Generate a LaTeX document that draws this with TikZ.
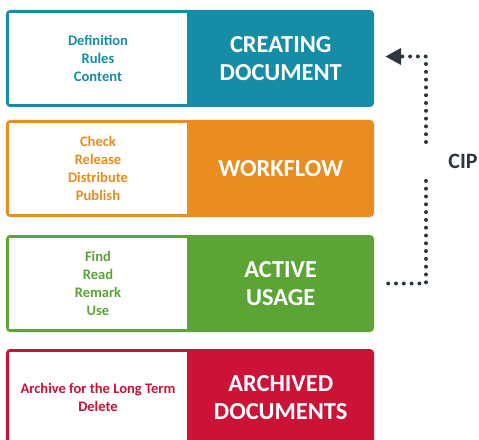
\documentclass[tikz,border=0pt]{standalone}
\usepackage{fontspec}
\setmainfont{Carlito}
\usepackage{tikz}
\usetikzlibrary{arrows.meta}

\definecolor{createcol}{RGB}{22,140,166}
\definecolor{flowcol}{RGB}{233,141,32}
\definecolor{usecol}{RGB}{92,164,54}
\definecolor{archivecol}{RGB}{204,18,54}
\definecolor{cipgray}{RGB}{45,55,62}

\tikzset{
	stage/.style={rectangle, rounded corners=4bp, minimum width=368bp, minimum height=97bp, inner sep=0pt},
	listbox/.style={rectangle, fill=white, minimum width=178bp, minimum height=91bp, inner sep=0pt, align=center, font=\bfseries\fontsize{14.6}{18}\selectfont},
	titletext/.style={text=white, align=center, font=\bfseries\fontsize{24.5}{28}\selectfont},
	cipline/.style={draw=cipgray, line width=4bp, line cap=round, dash pattern=on 0pt off 7.8bp}
}

\begin{document}
\begin{tikzpicture}[x=1bp, y=-1bp]
				\useasboundingbox (0,0) rectangle (479,440);
				
				\node (box1) [stage, fill=createcol] at (190,58.5) {};
				\node (box2) [stage, fill=flowcol, below of=box1, node distance=110bp] {};
				\node (box3) [stage, fill=usecol, below of=box2, node distance=115bp] {};
				\node (box4) [stage, fill=archivecol, below of=box3, node distance=114bp] {};
				
				% left lists
				\node (list1) [listbox, text=createcol, anchor=west] at ([xshift=3bp]box1.west) {Definition\\Rules\\Content};
				\node (list2) [listbox, text=flowcol, anchor=west] at ([xshift=3bp]box2.west) {Check\\Release\\Distribute\\Publish};
				\node (list3) [listbox, text=usecol, anchor=west] at ([xshift=3bp]box3.west) {Find\\Read\\Remark\\Use};
				\node (list4) [listbox, text=archivecol, anchor=west] at ([xshift=3bp]box4.west) {Archive for the Long Term\\Delete};
				
				% titles
				\node (title1) [titletext] at ([xshift=-93.5bp]box1.east) {CREATING\\DOCUMENT};
				\node (title2) [titletext] at ([xshift=-93.5bp]box2.east) {WORKFLOW};
				\node (title3) [titletext] at ([xshift=-93.5bp]box3.east) {ACTIVE\\USAGE};
				\node (title4) [titletext] at ([xshift=-93.5bp]box4.east) {ARCHIVED\\DOCUMENTS};
				
				% CIP loop
				\node (cip) [text=cipgray, font=\bfseries\fontsize{22}{24}\selectfont] at (463,161) {CIP};
				\coordinate (gaptop) at (426,142);
				\coordinate (gapbot) at (426,180);
				\draw[cipline] ([xshift=14bp]box3.east) -| (gapbot);
				\draw[cipline, -{Triangle[length=16bp, width=16bp]}] (gaptop) |- ([xshift=11bp, yshift=2bp]box1.east);
				
			\end{tikzpicture}
\end{document}
